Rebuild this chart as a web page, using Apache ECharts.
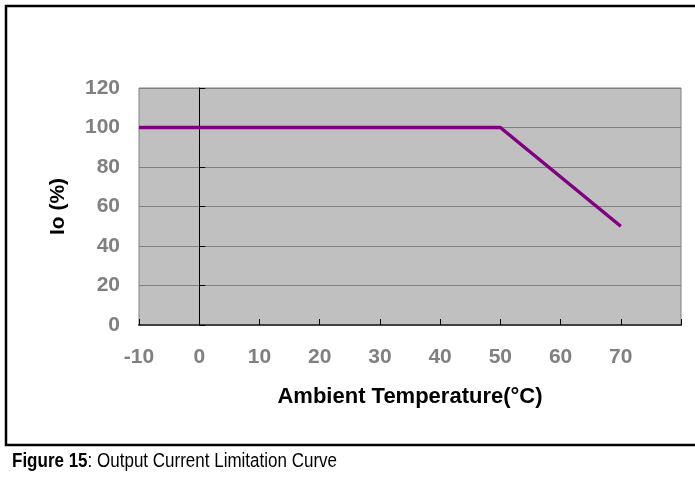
<!DOCTYPE html>
<html><head><meta charset="utf-8">
<script src="https://cdn.jsdelivr.net/npm/echarts@6/dist/echarts.min.js"></script>
<style>html,body{margin:0;padding:0;background:#fff}#c{width:695px;height:483px}</style>
</head><body><div id="c"></div>
<script>
const temps = [-10, 50, 70];
const ioPct = [100, 100, 50];
const xTicks = [-10, 0, 10, 20, 30, 40, 50, 60, 70];
const yTicks = [0, 20, 40, 60, 80, 100, 120];

const chart = echarts.init(document.getElementById('c'));
const font = 'Liberation Sans, Arial, sans-serif';
chart.setOption({
  animation: false,
  backgroundColor: '#fff',
  grid: { left: 139, right: 14, top: 88, bottom: 158, show: true, backgroundColor: '#c0c0c0', borderColor: '#808080', borderWidth: 1 },
  xAxis: {
    type: 'value', min: -10, max: 80, interval: 10,
    name: 'Ambient Temperature(°C)', nameLocation: 'middle', nameGap: 61,
    nameTextStyle: { color: '#000', fontWeight: 'bold', fontSize: 22, fontFamily: font },
    axisLine: { onZero: false, lineStyle: { color: '#404040', width: 2 } },
    axisTick: { inside: true, length: 6, lineStyle: { color: '#000', width: 1 } },
    axisLabel: { color: '#808080', fontWeight: 'bold', fontSize: 21, fontFamily: font, margin: 22,
      formatter: v => xTicks.indexOf(v) >= 0 ? String(v) : '' },
    splitLine: { show: false }
  },
  yAxis: [{
    type: 'value', min: 0, max: 120, interval: 20,
    name: 'Io (%)', nameLocation: 'middle', nameGap: 70, nameRotate: 90,
    nameTextStyle: { color: '#000', fontWeight: 'bold', fontSize: 21, fontFamily: font },
    axisLine: { show: false }, axisTick: { show: false },
    axisLabel: { color: '#808080', fontWeight: 'bold', fontSize: 21, fontFamily: font, margin: 19,
      formatter: v => yTicks.indexOf(v) >= 0 ? String(v) : '' },
    splitLine: { show: true, lineStyle: { color: '#808080', width: 1 } }
  }, {
    type: 'value', min: 0, max: 120, interval: 20, position: 'left',
    axisLine: { show: true, onZero: true, onZeroAxisIndex: 0, lineStyle: { color: '#000', width: 1 } },
    axisTick: { show: true, inside: true, length: 6, lineStyle: { color: '#000' } },
    axisLabel: { show: false }, splitLine: { show: false }
  }],
  series: [{
    type: 'line', data: temps.map((t, i) => [t, ioPct[i]]), yAxisIndex: 0,
    symbol: 'none', lineStyle: { color: '#800080', width: 3.5 }
  }],
  graphic: [
    { type: 'rect', shape: { x: 6, y: 6, width: 700, height: 439 }, style: { fill: 'none', stroke: '#000', lineWidth: 2.5 }, silent: true },
    { type: 'text', x: 12, y: 451, scaleX: 0.85, style: {
      text: '{b|Figure 15}{n|: Output Current Limitation Curve}',
      rich: { b: { fontWeight: 'bold', fontSize: 20, fontFamily: font, fill: '#000' },
              n: { fontSize: 20, fontFamily: font, fill: '#000' } } } }
  ]
});
</script></body></html>
